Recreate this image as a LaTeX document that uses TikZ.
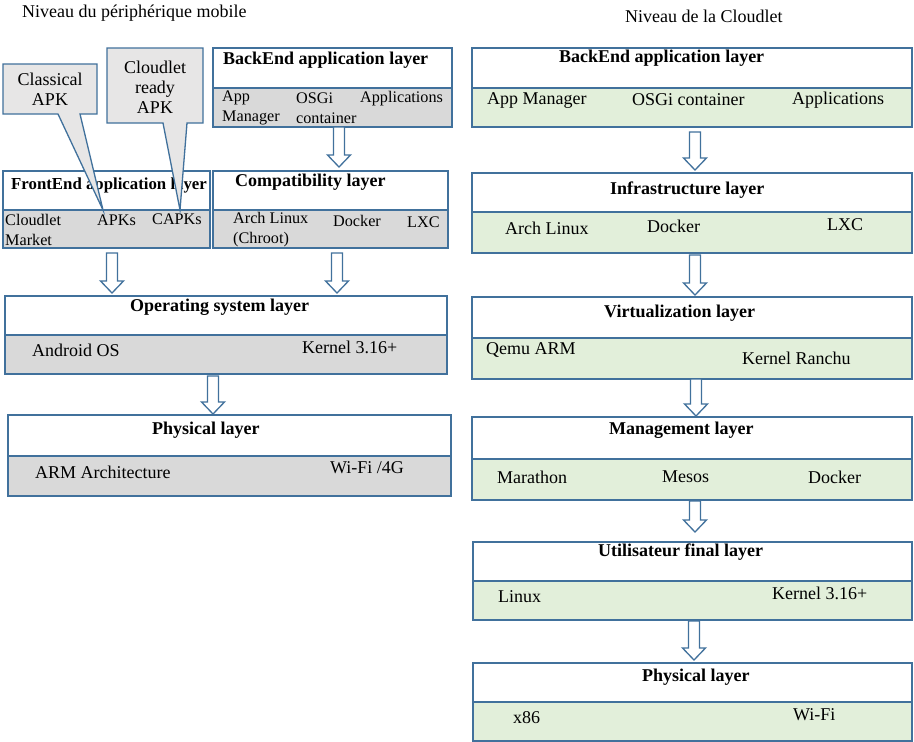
\documentclass[tikz,border=0pt]{standalone}
\usepackage{fontspec}
\setmainfont{Liberation Serif}
\begin{document}
\begin{tikzpicture}[x=1pt,y=-1pt,
  box/.style={draw=bordc, line width=1.3pt},
  arr/.style={draw=bordc, line width=1.3pt, fill=white, line join=miter},
  txt/.style={inner sep=0pt, anchor=west, font=\fontsize{18}{20}\selectfont, text=black},
  stxt/.style={txt, font=\fontsize{16.2}{20}\selectfont},
  hd/.style={txt, font=\fontsize{18}{20}\selectfont\bfseries},
  ttl/.style={inner sep=0pt, anchor=west, font=\fontsize{18}{20}\selectfont}]
\definecolor{bordc}{RGB}{65,113,156}
\definecolor{grayf}{RGB}{217,217,217}
\definecolor{callf}{RGB}{231,230,230}
\definecolor{greenf}{RGB}{226,239,218}
\newcommand\mylayer[7]{%
  \draw[box, fill=white] (#2,#3) rectangle (#5,#4);
  \draw[box, fill=#7] (#2,#4) rectangle (#5,#6);
  \coordinate (#1-n) at ({(#2+#5)/2},#3);
  \coordinate (#1-s) at ({(#2+#5)/2},#6);}
\newcommand\blockarr[3]{%
  \draw[arr] ({#1-5.5},#2) -- ({#1+5.5},#2) -- ({#1+5.5},{#3-12}) -- ({#1+11.5},{#3-12}) -- (#1,#3) -- ({#1-11.5},{#3-12}) -- ({#1-5.5},{#3-12}) -- cycle;}
\useasboundingbox (0,0) rectangle (914,742);
\fill[white] (0,0) rectangle (914,742);

% titles
\node[ttl] (t1) at (22,13) {Niveau du périphérique mobile};
\node[ttl] (t2) at (625,16) {Niveau de la Cloudlet};

% ---------- left column ----------
\mylayer{lbe}{213}{48}{88}{452}{127}{grayf}
\node[hd] (lbeh) at (223,60) {BackEnd application layer};
\node[stxt, align=left] (lbe1) at (222,108) {App\\Manager};
\node[stxt, align=left] (lbe2) at (296,108) {OSGi\\container};
\node[stxt] (lbe3) at (360,99) {Applications};

\mylayer{lfe}{3}{171}{210}{210}{248}{grayf}
\node[hd, font=\fontsize{16.8}{20}\selectfont\bfseries] (lfeh) at (11,185) {FrontEnd application layer};
\node[stxt, align=left] (lfe1) at (5,230) {Cloudlet\\Market};
\node[stxt] (lfe2) at (97,220) {APKs};
\node[stxt] (lfe3) at (152,219) {CAPKs};

\mylayer{lco}{213}{171}{210}{448}{248}{grayf}
\node[hd] (lcoh) at (235,182) {Compatibility layer};
\node[stxt, align=left] (lco1) at (233,230) {Arch Linux\\(Chroot)};
\node[stxt] (lco2) at (333,221) {Docker};
\node[stxt] (lco3) at (407,222) {LXC};

\mylayer{los}{5}{296}{335}{447}{374}{grayf}
\node[hd] (losh) at (130,307) {Operating system layer};
\node[txt] (los1) at (32,350) {Android OS};
\node[txt] (los2) at (302,347) {Kernel 3.16+};

\mylayer{lph}{8}{415}{456}{451}{496}{grayf}
\node[hd] (lphh) at (152,430) {Physical layer};
\node[txt] (lph1) at (35,472) {ARM Architecture};
\node[txt] (lph2) at (330,468) {Wi-Fi /4G};

% callouts
\draw[box, fill=callf, line join=miter] (3,64) -- (97,64) -- (97,114) -- (80,114) -- (103,210) -- (58,114) -- (3,114) -- cycle;
\node[txt, align=center, anchor=center] (c1) at (50,89) {Classical\\APK};
\draw[box, fill=callf, line join=miter] (107,48) -- (203,48) -- (203,123) -- (187,123) -- (180,210) -- (163,123) -- (107,123) -- cycle;
\node[txt, align=center, anchor=center] (c2) at (155,87) {Cloudlet\\ready\\APK};

% left arrows
\blockarr{339}{127}{167}
\blockarr{112}{253}{293}
\blockarr{337}{253}{293}
\blockarr{213}{376}{414}

% ---------- right column ----------
\mylayer{rbe}{472}{48}{88}{912}{127}{greenf}
\node[hd] (rbeh) at (559,58) {BackEnd application layer};
\node[txt] (rbe1) at (487,100) {App Manager};
\node[txt] (rbe2) at (632,100) {OSGi container};
\node[txt] (rbe3) at (792,100) {Applications};

\mylayer{rin}{472}{173}{212}{912}{253}{greenf}
\node[hd] (rinh) at (610,190) {Infrastructure layer};
\node[txt] (rin1) at (505,228) {Arch Linux};
\node[txt] (rin2) at (647,226) {Docker};
\node[txt] (rin3) at (827,225) {LXC};

\mylayer{rvi}{472}{297}{338}{912}{379}{greenf}
\node[hd] (rvih) at (604,313) {Virtualization layer};
\node[txt] (rvi1) at (486,350) {Qemu ARM};
\node[txt] (rvi2) at (742,358) {Kernel Ranchu};

\mylayer{rma}{472}{417}{459}{912}{500}{greenf}
\node[hd] (rmah) at (609,430) {Management layer};
\node[txt] (rma1) at (497,477) {Marathon};
\node[txt] (rma2) at (662,477) {Mesos};
\node[txt] (rma3) at (808,477) {Docker};

\mylayer{rut}{473}{542}{581}{912}{620}{greenf}
\node[hd] (ruth) at (598,552) {Utilisateur final layer};
\node[txt] (rut1) at (498,597) {Linux};
\node[txt] (rut2) at (772,593) {Kernel 3.16+};

\mylayer{rph}{473}{663}{702}{912}{741}{greenf}
\node[hd] (rphh) at (642,677) {Physical layer};
\node[txt] (rph1) at (513,718) {x86};
\node[txt] (rph2) at (793,715) {Wi-Fi};

% right arrows
\blockarr{695}{132}{170}
\blockarr{695}{255}{295}
\blockarr{696}{379}{416}
\blockarr{695}{501}{532}
\blockarr{694}{621}{660}
\end{tikzpicture}
\end{document}
